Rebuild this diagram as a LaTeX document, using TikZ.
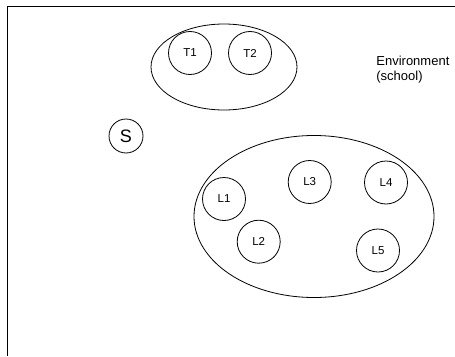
\documentclass[tikz,border=0pt]{standalone}
\usepackage{fontspec}
\setmainfont{Liberation Sans}
\begin{document}
\begin{tikzpicture}[x=1pt,y=-1pt,line width=0.8pt,
  person/.style={draw,circle,minimum size=43pt,inner sep=0pt,font=\fontsize{11.5}{13}\selectfont},
  group/.style={draw,ellipse}]
\useasboundingbox (0,0) rectangle (455,356);
% outer frame (only top and left edges fall inside the view)
\coordinate (fr) at (455,6.7);
\coordinate (fc) at (7.3,6.7);
\coordinate (fb) at (7.3,356);
\draw (fr) -- (fc) -- (fb);
% teachers' group
\draw (224,67) ellipse [x radius=73, y radius=43];
\node[person] (T1) at (190,53) {T1};
\node[person] (T2) at (250,53) {T2};
% the student
\node[draw,circle,minimum size=34pt,inner sep=0pt,font=\fontsize{18}{20}\selectfont] (S) at (126,136) {S};
% learners' group
\draw (314,216.5) ellipse [x radius=120, y radius=81];
\node[person] (L1) at (224,199) {L1};
\node[person] (L2) at (258.7,241.7) {L2};
\node[person] (L3) at (309.7,182) {L3};
\node[person] (L4) at (386,182.5) {L4};
\node[person] (L5) at (378,250.5) {L5};
% label
\node[anchor=north west,align=left,inner sep=0pt,font=\fontsize{13}{15}\selectfont] (env) at (376,56) {Environment\\(school)};
\end{tikzpicture}
\end{document}
